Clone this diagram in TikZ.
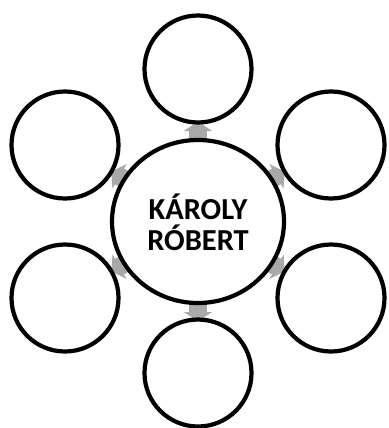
\documentclass[tikz,border=0pt]{standalone}
\usepackage{fontspec}
\setmainfont{Carlito}
\usetikzlibrary{shapes.geometric,arrows.meta,calc}
\definecolor{arrowgray}{HTML}{A9A9A9}
\begin{document}
\begin{tikzpicture}[x=1pt,y=-1pt]
\useasboundingbox (0,0) rectangle (388,428);
\tikzset{
  ring/.style={circle, draw=black, line width=4.2pt, fill=white, minimum size=107pt, inner sep=0pt},
  hub/.style={ellipse, draw=black, line width=4.2pt, fill=white, minimum width=172pt, minimum height=163pt, inner sep=0pt},
  flow/.style={line width=18pt, arrowgray, line cap=butt, -{Triangle[width=28pt,length=9.5pt]}}
}
% positions
\coordinate (cc) at (198,221.5);
\coordinate (pt) at (198,69);
\coordinate (pur) at (331,145);
\coordinate (plr) at (331,298);
\coordinate (pb) at (198,373);
\coordinate (pll) at (65,298);
\coordinate (pul) at (65,145);
% arrows (behind circles)
\foreach \p in {pt,pur,plr,pb,pll,pul}{
  \draw[flow] ($(cc)!70pt!(\p)$) -- ($(cc)!100pt!(\p)$);
}
\node[hub] (c) at (cc) {};
\node[ring] (t) at (pt) {};
\node[ring] (ur) at (pur) {};
\node[ring] (lr) at (plr) {};
\node[ring] (b) at (pb) {};
\node[ring] (ll) at (pll) {};
\node[ring] (ul) at (pul) {};
\node[font=\bfseries\fontsize{30.5}{31}\selectfont, align=center, inner sep=0pt] (lbl) at ($(cc)+(0,1)$) {KÁROLY\\RÓBERT};
\end{tikzpicture}
\end{document}
